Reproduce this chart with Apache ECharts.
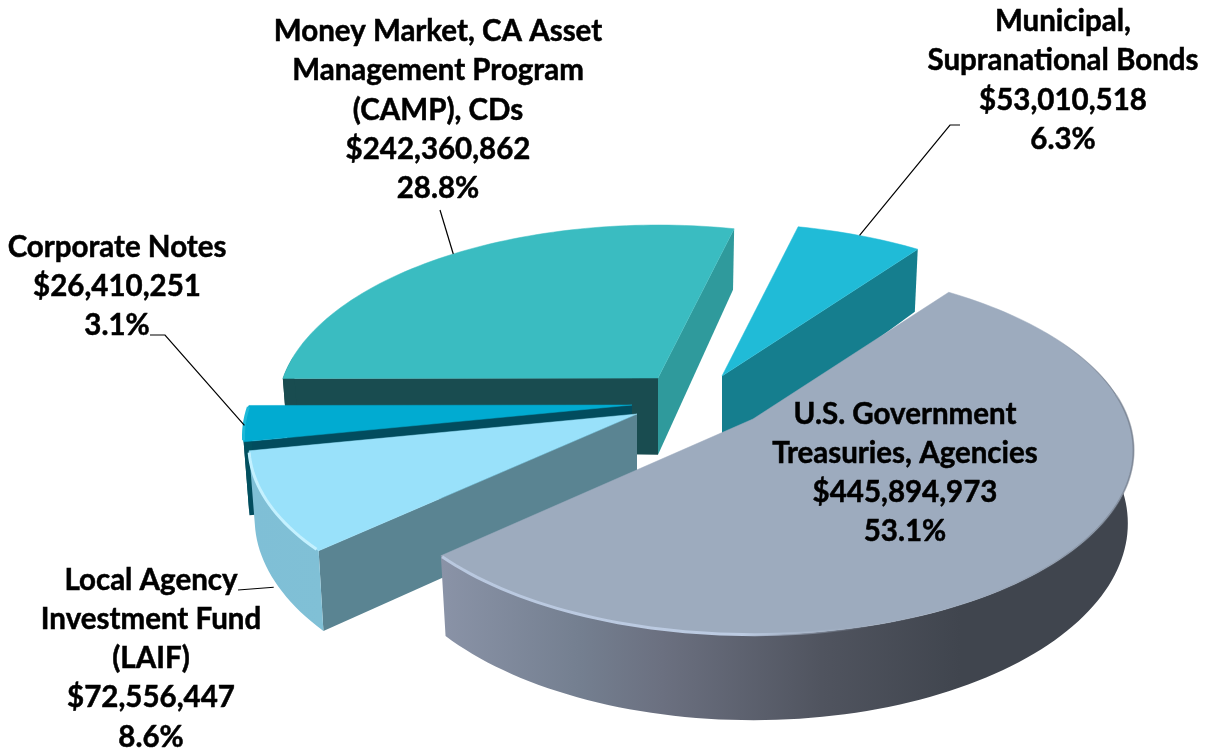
<!DOCTYPE html>
<html><head><meta charset="utf-8">
<style>html,body{margin:0;padding:0;background:#fff}#c{width:1206px;height:752px}</style>
<script src="https://cdn.jsdelivr.net/npm/echarts@6/dist/echarts.min.js"></script>
</head><body><div id="c"></div>
<script>
// ---- data (clockwise from the start of the largest slice)
const categories = [
  'U.S. Government\nTreasuries, Agencies',
  'Local Agency\nInvestment Fund\n(LAIF)',
  'Corporate Notes',
  'Money Market, CA Asset\nManagement Program\n(CAMP), CDs',
  'Municipal,\nSupranational Bonds'
];
const amounts = [445894973, 72556447, 26410251, 242360862, 53010518];
const amountLabels = ['$445,894,973', '$72,556,447', '$26,410,251', '$242,360,862', '$53,010,518'];
const percentLabels = ['53.1%', '8.6%', '3.1%', '28.8%', '6.3%'];

// ---- styling / layout, separate from data
const startAngle = 36.4;           // degrees clockwise from the back of the disk
const radiusX = 375, radiusY = 179, persp = 0.17, depth = 71, taper = 0.985;
const radiusScale = [1, 1.02, 1.021, 1, 1];
const apexes = [[753, 419], [637, 414], [632, 405], [658, 378], [722, 376]];
const topColors = ['#9DABBE', '#99E1FA', '#01ABD1', '#3ABCC1', '#20BBD7'];
const startWall = ['#9DABBE', '#5A8492', '#024C5E', '#194C50', '#157E8E'];
const endWall = ['#9DABBE', '#5A8492', '#024C5E', '#2F9A9C', '#157E8E'];
const outerColors = [
  {type:'linear',x:0,y:0,x2:1,y2:0,colorStops:[
    {offset:0,color:'#8A93A7'},{offset:0.2,color:'#747F90'},{offset:0.32,color:'#6B7080'},
    {offset:0.55,color:'#50545F'},{offset:0.75,color:'#40454E'},{offset:1,color:'#40454E'}]},
  {type:'linear',x:0,y:0,x2:1,y2:0,colorStops:[{offset:0,color:'#7FBFD6'},{offset:1,color:'#80C0D6'}]},
  '#02505F', '#194C50', '#157E8E'
];
const drawOrder = [3, 4, 2, 1, 0];
const labelFont = '700 29.5px Lato, "Open Sans", sans-serif';
const labelCenters = [[438, 110], [151, 658.5], [117, 286.5], [438, 110], [1063, 80.5]];
labelCenters[0] = [905, 473];
const leaderElbows = [null, [[238, 590]], [[165, 335], [150, 335]], [[440, 210]], [[950, 125], [960, 125]]];
const leaderDrop = [0, 77, 2, 0, 0];
const leaderShift = [0, -2.5, 0, 0, 0];

const total = amounts.reduce((a, b) => a + b, 0);
const spans = []; let acc = startAngle;
amounts.forEach(v => { const s = v / total * 360; spans.push([acc, acc + s]); acc += s; });

function project(i, deg, down) {
  const r = deg * Math.PI / 180, u = Math.sin(r), v = -Math.cos(r), s = 1 / (1 - persp * v);
  const ap = apexes[i], k = down ? taper : 1;
  return [ap[0] + radiusX * radiusScale[i] * u * s * k, ap[1] + radiusY * v * s + (down ? depth * s : 0)];
}
function apexDown(i) { return [apexes[i][0], apexes[i][1] + depth * 1.08]; }
function area(p) {
  let a = 0;
  for (let i = 0; i < p.length; i++) { const q = p[(i + 1) % p.length]; a += p[i][0] * q[1] - q[0] * p[i][1]; }
  return a;
}
function arc(i, from, to, down) {
  const pts = [], n = Math.max(2, Math.ceil((to - from) / 1.5));
  for (let j = 0; j <= n; j++) pts.push(project(i, from + (to - from) * j / n, down));
  return pts;
}
function sliceItem(params, api) {
  const i = api.value(0), [a0, a1] = spans[i], ch = [];
  const apex = apexes[i], ad = apexDown(i);
  const w1 = [apex, project(i, a0, false), project(i, a0, true), ad];
  const w2 = [project(i, a1, false), apex, ad, project(i, a1, true)];
  if (area(w1) < 0) ch.push({type:'polygon', shape:{points:w1}, style:{fill:startWall[i]}});
  if (area(w2) < 0) ch.push({type:'polygon', shape:{points:w2}, style:{fill:endWall[i]}});
  // outer wall: only the part that faces the viewer
  let f = a0, t = a1;
  const facing = d => -Math.cos(d * Math.PI / 180) > -0.12;
  while (f < t && !facing(f)) f += 0.5;
  while (t > f && !facing(t)) t -= 0.5;
  if (t > f) {
    const poly = arc(i, f, t, false).concat(arc(i, f, t, true).reverse());
    ch.push({type:'polygon', shape:{points:poly}, style:{fill:outerColors[i]}});
  }
  const top = [apex].concat(arc(i, a0, a1, false));
  ch.push({type:'polygon', shape:{points:top}, style:{fill:topColors[i], stroke:topColors[i], lineWidth:0.5}});
  // soft bevel on the front rims
  if (i === 1) {
    ch.push({type:'polyline', shape:{points:arc(i, a0 + 0.5, a1 - 0.5, false)}, style:{fill:null, stroke:'#C4F1FF', lineWidth:3}});
  }
  if (i === 2) {
    ch.push({type:'polyline', shape:{points:arc(i, a0 + 0.5, a1 - 0.5, false)}, style:{fill:null, stroke:'#1CB9D8', lineWidth:3}});
  }
  if (i === 0) {
    ch.push({type:'polyline', shape:{points:arc(i, 165, a1 - 0.3, false)}, style:{fill:null, lineWidth:3,
      stroke:{type:'linear',x:0,y:0,x2:1,y2:0,colorStops:[{offset:0,color:'#B9C8DF'},{offset:0.7,color:'#BCCBE2'},{offset:1,color:'rgba(157,171,190,0)'}]}}});
    ch.push({type:'polyline', shape:{points:arc(i, 82, 150, false)}, style:{fill:null, lineWidth:2,
      stroke:{type:'linear',x:0,y:0,x2:1,y2:0,colorStops:[{offset:0,color:'rgba(107,116,130,0)'},{offset:1,color:'rgba(107,116,130,0.55)'}]}}});
    ch.push({type:'polyline', shape:{points:arc(i, 58, 82, false)}, style:{fill:null, lineWidth:1.2,
      stroke:{type:'linear',x:0,y:0,x2:0,y2:1,colorStops:[{offset:0,color:'rgba(90,98,112,0)'},{offset:1,color:'rgba(90,98,112,0.6)'}]}}});
  }
  return {type:'group', children:ch};
}
function labelItem(params, api) {
  const i = api.value(0), ch = [];
  if (leaderElbows[i]) {
    const mid = (spans[i][0] + spans[i][1]) / 2 + leaderShift[i];
    const p = project(i, mid, false); p[1] += leaderDrop[i];
    ch.push({type:'polyline', shape:{points:[p].concat(leaderElbows[i])}, style:{fill:null, stroke:'#000', lineWidth:1.2}});
  }
  ch.push({type:'text', x:labelCenters[i][0], y:labelCenters[i][1], style:{
    text:categories[i] + '\n' + amountLabels[i] + '\n' + percentLabels[i],
    font:labelFont, lineHeight:39.25, fill:'#000', stroke:'#000', lineWidth:0.5, align:'center', verticalAlign:'middle'}});
  return {type:'group', children:ch};
}
const chart = echarts.init(document.getElementById('c'), null, {renderer:'canvas'});
chart.setOption({
  animation:false,
  backgroundColor:'#fff',
  series:[
    {type:'custom', coordinateSystem:'none', silent:true, clip:false, renderItem:sliceItem, data:drawOrder.map(i => [i])},
    {type:'custom', coordinateSystem:'none', silent:true, clip:false, renderItem:labelItem, data:drawOrder.map(i => [i]), z:5}
  ]
});
</script></body></html>
